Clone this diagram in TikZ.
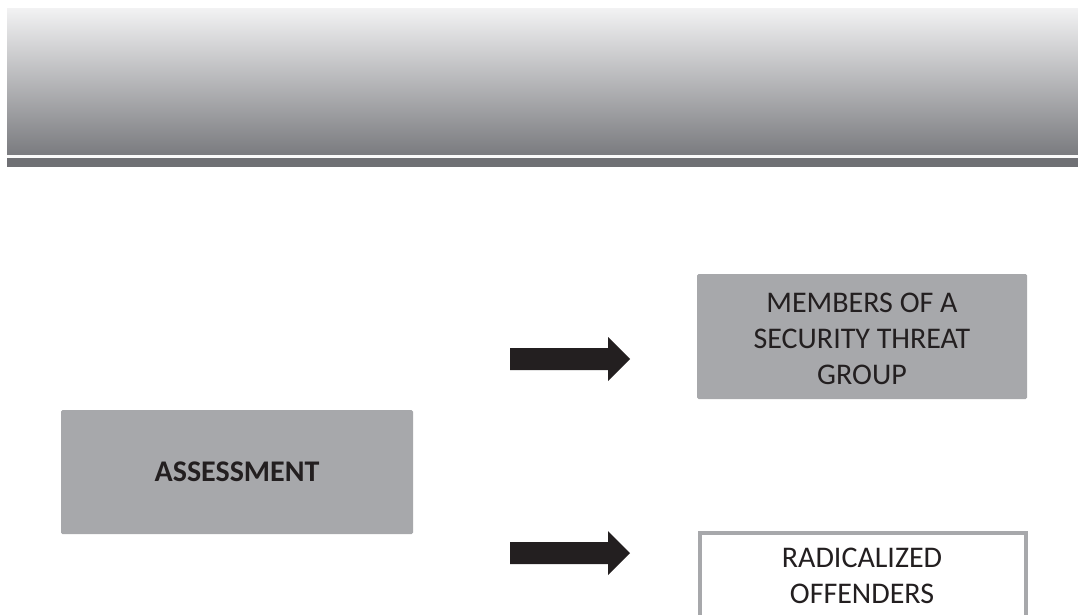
\documentclass[tikz,border=0pt]{standalone}
\usepackage{fontspec}
\setmainfont{Carlito}
\usetikzlibrary{calc}
\definecolor{boxgray}{HTML}{A7A8AB}
\definecolor{inkdark}{HTML}{231F20}
\definecolor{bandtop}{HTML}{F2F2F3}
\definecolor{bandbot}{HTML}{7A7B7F}
\definecolor{bardark}{HTML}{6F7074}
\tikzset{
	greybox/.style={fill=boxgray, rounded corners=1.5pt, text=inkdark, align=center, font=\fontsize{30}{36}\selectfont},
	openbox/.style={draw=boxgray, line width=4pt, fill=white},
	boxtext/.style={text=inkdark, align=center, font=\fontsize{30}{36}\selectfont},
	arrowfill/.style={fill=inkdark}
}
\def\blockarrow(#1){\fill[arrowfill, shift={(#1)}] (0,-11) -- (98,-11) -- (98,-22) -- (120,0) -- (98,22) -- (98,11) -- (0,11) -- cycle;}

\begin{document}
\begin{tikzpicture}[x=1pt, y=-1pt]
			%%%%% START %%%%%
			\useasboundingbox (0, 0) rectangle (1078, 614);
			
			\shade[top color=bandtop, bottom color=bandbot] (7, 8) rectangle (1078, 155);
			\fill[white!98!black] (7, 155) rectangle (1078, 158);
			\fill[bardark] (7, 158) rectangle (1078, 167);
			
			\node[greybox, minimum width=352pt, minimum height=124pt, font=\fontsize{30}{36}\selectfont\bfseries] (assess) at (237, 472) {ASSESSMENT};
			
			\node[greybox, minimum width=330pt, minimum height=125pt] (stg) at (862, 336.5) {};
			\node[boxtext] (stgtext) at (862, 338.5) {MEMBERS OF A\\SECURITY THREAT\\GROUP};
			
			\draw[openbox] (700, 533) rectangle (1026, 620);
			\node[boxtext] (radical) at (862, 576) {RADICALIZED\\OFFENDERS};
			
			\coordinate (arrA) at (510, 359);
			\coordinate (arrB) at (510, 553);
			\blockarrow(arrA)
			\blockarrow(arrB)
			%%%%% END %%%%%
		\end{tikzpicture}
\end{document}
